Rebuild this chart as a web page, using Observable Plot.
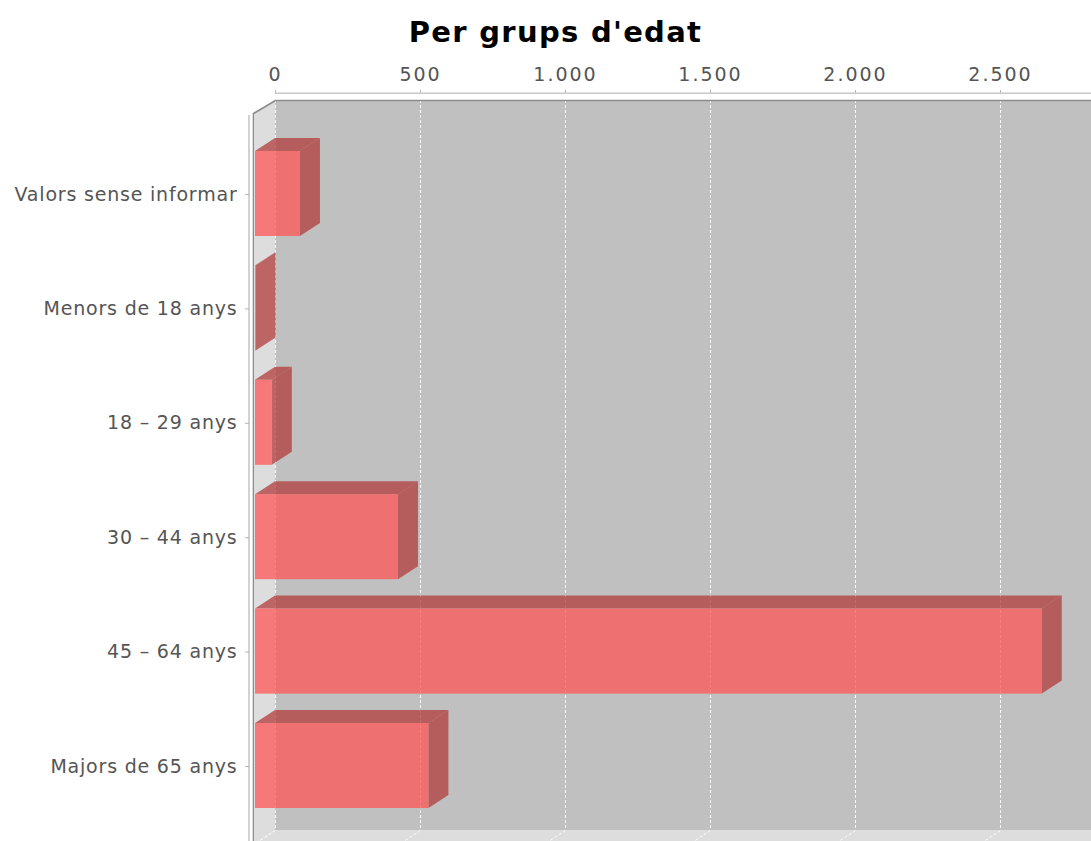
<!DOCTYPE html>
<html>
<head>
<meta charset="utf-8">
<script src="https://cdn.jsdelivr.net/npm/d3@7"></script>
<script src="https://cdn.jsdelivr.net/npm/@observablehq/plot@0.6"></script>
<style>
html, body { margin: 0; padding: 0; background: #fff; overflow: hidden; }
#title { position: absolute; left: 10px; top: 18px; width: 1091px; height: 29px; line-height: 29px;
  text-align: center; font-family: "DejaVu Sans", sans-serif; font-weight: bold; font-size: 29px;
  letter-spacing: 1.3px; color: #000; }
#chart { position: absolute; left: 0; top: 50px; }
g[aria-label^="x-axis"] text { letter-spacing: 2px; }
g[aria-label^="y-axis"] text { letter-spacing: 0.8px; }
g[aria-label^="x-axis"] line, g[aria-label^="x-axis"] path,
g[aria-label^="y-axis"] line, g[aria-label^="y-axis"] path { stroke: #b4b4b4; }
</style>
</head>
<body>
<div id="title">Per grups d'edat</div>
<div id="chart"></div>
<script>
// ---- data ----
const categories = ["Valors sense informar", "Menors de 18 anys", "18 – 29 anys", "30 – 44 anys", "45 – 64 anys", "Majors de 65 anys"];
const values = [155, 2, 58, 493, 2713, 598];
const xTicks = [0, 500, 1000, 1500, 2000, 2500];
const xTickLabels = ["0", "500", "1.000", "1.500", "2.000", "2.500"];

// ---- scale setup (pixel geometry of the 3D plot) ----
const W = 1091, H = 791;
const xDomain = [0, 2500], xRange = [275, 1000];
const yDomain = [0, 5], yRange = [144, 716];
const ux = px => px * (xDomain[1] - xDomain[0]) / (xRange[1] - xRange[0]);
const uy = py => py * (yDomain[1] - yDomain[0]) / (yRange[1] - yRange[0]);
const xAt = px => xDomain[0] + ux(px - xRange[0]);
const yAt = py => yDomain[0] + uy(py - yRange[0]);
const DX = 20, DY = 13;           // 3D depth offset in px
const planeTop = 50, planeBot = 780, farRight = 1300;

const bars = categories.map((c, i) => {
  const v = values[i];
  const fTop = i + uy(-43), fBot = i + uy(42);
  return { i, v, fx1: ux(-DX), fx2: v + ux(-DX), fTop, fBot, bTop: fTop + uy(-DY), bBot: fBot + uy(-DY) };
});
const topPts = bars.flatMap(b => [
  { z: b.i, y: b.fTop, x1: b.fx1, x2: b.fx2 },
  { z: b.i, y: b.bTop, x1: 0, x2: b.v }
]);
const sidePts = bars.flatMap(b => [
  { z: b.i, x: b.fx2, y1: b.fTop, y2: b.fBot },
  { z: b.i, x: b.v, y1: b.bTop, y2: b.bBot }
]);

const backPlane = [{ x1: 0, x2: xAt(farRight), y1: yAt(planeTop), y2: yAt(planeBot) }];
const leftWall = [
  { x: ux(-DX), y1: yAt(planeTop + DY), y2: yAt(planeBot + DY) },
  { x: 0, y1: yAt(planeTop), y2: yAt(planeBot) }
];
const floor = [
  { y: yAt(planeBot), x1: 0, x2: xAt(farRight) },
  { y: yAt(planeBot + DY), x1: ux(-DX), x2: xAt(farRight) + ux(-DX) }
];
const grid = xTicks.map(t => ({ x: t, y1: yAt(planeTop), y2: yAt(planeBot) }));
const floorGrid = xTicks.map(t => ({ x1: t, y1: yAt(planeBot), x2: t + ux(-DX), y2: yAt(planeBot + DY) }));
const outline = [
  { x: xAt(253), y: yAt(900) },
  { x: xAt(253), y: yAt(planeTop + DY) },
  { x: 0, y: yAt(planeTop) },
  { x: xAt(farRight), y: yAt(planeTop) }
];
const axisLine = [{ y: yAt(42.7), x1: 0, x2: xAt(farRight) }];
const yAxisLine = [{ x: xAt(248.5), y1: yAt(65), y2: yAt(900) }];

const chart = Plot.plot({
  width: W, height: H,
  marginTop: 43, marginLeft: 249, marginRight: 0, marginBottom: 0,
  style: { fontFamily: "DejaVu Sans, sans-serif", fontSize: "19px", color: "#555", background: "transparent", overflow: "hidden" },
  x: { domain: xDomain, range: xRange, axis: "top", ticks: xTicks,
       tickFormat: d => xTickLabels[xTicks.indexOf(d)], tickSize: 4, tickPadding: 9, label: null },
  y: { domain: yDomain, range: yRange, ticks: [0, 1, 2, 3, 4, 5],
       tickFormat: i => categories[i], tickSize: 4, tickPadding: 8, label: null },
  marks: [
    Plot.rect(backPlane, { x1: "x1", x2: "x2", y1: "y1", y2: "y2", fill: "#c0c0c0" }),
    Plot.areaY(leftWall, { x: "x", y1: "y1", y2: "y2", fill: "#dddddd" }),
    Plot.areaX(floor, { y: "y", x1: "x1", x2: "x2", fill: "#dddddd" }),
    Plot.ruleX(grid, { x: "x", y1: "y1", y2: "y2", stroke: "#ffffff", strokeDasharray: "3,2", strokeOpacity: 0.9 }),
    Plot.link(floorGrid, { x1: "x1", y1: "y1", x2: "x2", y2: "y2", stroke: "#ffffff", strokeDasharray: "3,2", strokeOpacity: 0.9 }),
    Plot.ruleY(axisLine, { y: "y", x1: "x1", x2: "x2", stroke: "#c8c8c8", strokeWidth: 1.5 }),
    Plot.ruleX(yAxisLine, { x: "x", y1: "y1", y2: "y2", stroke: "#b4b4b4", strokeWidth: 1.2 }),
    Plot.line(outline, { x: "x", y: "y", stroke: "#8c8c8c", strokeWidth: 1.6 }),
    Plot.areaY(sidePts, { x: "x", y1: "y1", y2: "y2", z: "z", fill: "#b23b3b", fillOpacity: 0.75 }),
    Plot.areaX(topPts, { y: "y", x1: "x1", x2: "x2", z: "z", fill: "#b23b3b", fillOpacity: 0.75 }),
    Plot.rect(bars, { x1: "fx1", x2: "fx2", y1: "fTop", y2: "fBot", fill: "#ff5555", fillOpacity: 0.75 })
  ]
});
document.getElementById("chart").appendChild(chart);
</script>
</body>
</html>
